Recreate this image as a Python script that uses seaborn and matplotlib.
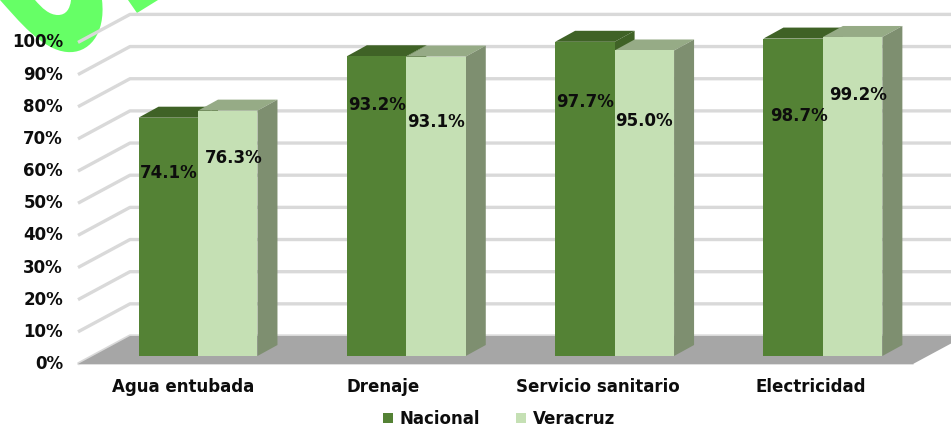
#!/usr/bin/env python

import pandas as pd
import matplotlib
matplotlib.use("Agg")
import matplotlib.pyplot as plt
import seaborn as sns
from matplotlib.patches import Polygon, PathPatch
from matplotlib.path import Path

# Chart values
categories = ["Agua entubada", "Drenaje", "Servicio sanitario", "Electricidad"]
nacional = [74.1, 93.2, 97.7, 98.7]
veracruz = [76.3, 93.1, 95.0, 99.2]
y_ticks = [0, 10, 20, 30, 40, 50, 60, 70, 80, 90, 100]

# Where the labels sit inside the bars (height, and nudge from the bar centre)
nacional_label_y = [56.9, 78.0, 79.0, 74.6]
veracruz_label_y = [61.6, 72.8, 73.0, 81.2]
nacional_label_dx = [0, 0, 0, 0.03]
veracruz_label_dx = [0.03, 0, 0, 0.025]
category_label_x = [-0.07, 0.89, 1.92, 2.94]

FONT = "DejaVu Sans"
FONT_SIZE = 12
INK = "#0D0D0D"
FRONT = {"Nacional": "#548235", "Veracruz": "#C5E0B4"}
TOP = {"Nacional": "#3F6226", "Veracruz": "#96AB86"}
SIDE = {"Nacional": "#3F6226", "Veracruz": "#7E8F70"}

W, H = 951, 428
PX_X = 208.3    # pixels per category
PX_Y = 3.216    # pixels per percent

df = pd.DataFrame({
    "categoria": categories * 2,
    "serie": ["Nacional"] * 4 + ["Veracruz"] * 4,
    "valor": nacional + veracruz,
})

sns.set_theme(style="white")
fig = plt.figure(figsize=(W / 100, H / 100), dpi=100)
ax = fig.add_axes([0, 0, 1, 1])

sns.barplot(data=df, x="categoria", y="valor", hue="serie", order=categories,
            palette=FRONT, saturation=1, width=0.571, gap=0, linewidth=0, ax=ax, zorder=5)

# The axes fill the figure, so the limits place the front plane of the bars
ax.set_xlim(-198 / PX_X, (W - 198) / PX_X)
ax.set_ylim(-(H - 356) / PX_Y, 356 / PX_Y)
ax.set_axis_off()

# Depth of the walls and of the bars, in data units
wall_dx, wall_dy = 52 / PX_X, 28 / PX_Y
bar_dx, bar_dy = 20 / PX_X, 11 / PX_Y
front_drop = 8 / PX_Y


def pixel_xy(points):
    return [(x / W, 1 - y / H) for x, y in points]


# Green watermark cut off by the top of the picture
blob = Path(
    pixel_xy([(0, 0), (18, 20), (42, 50), (67, 52), (88, 54), (106, 35), (102, 0),
              (71, 0), (70, 9), (66, 15), (58, 15), (49, 15), (42, 8), (35, 0), (0, 0)]),
    [Path.MOVETO, Path.CURVE4, Path.CURVE4, Path.CURVE4, Path.CURVE4, Path.CURVE4, Path.CURVE4,
     Path.LINETO, Path.CURVE4, Path.CURVE4, Path.CURVE4, Path.CURVE4, Path.CURVE4, Path.CURVE4,
     Path.CLOSEPOLY],
)
ax.add_patch(PathPatch(blob, transform=ax.transAxes, facecolor="#66FF66", edgecolor="none", zorder=0))
ax.add_patch(Polygon(pixel_xy([(128, 0), (137, 13), (158, 0)]), transform=ax.transAxes,
                     facecolor="#66FF66", edgecolor="none", zorder=0))

# Floor
x_start = (78 - 198) / PX_X
x_end = (913 - 198) / PX_X
ax.add_patch(Polygon([(x_start, -front_drop), (x_start + wall_dx, -front_drop + wall_dy),
                      (x_end + wall_dx, -front_drop + wall_dy), (x_end, -front_drop)],
                     facecolor="#A6A6A6", edgecolor="none", zorder=2))

# Gridlines: short diagonal on the side wall, then across the back wall
for v in y_ticks:
    ax.plot([x_start, x_start + wall_dx, ax.get_xlim()[1]],
            [v - front_drop, v - front_drop + wall_dy, v - front_drop + wall_dy],
            color="#D9D9D9", lw=2.4, solid_capstyle="butt", zorder=1)
    ax.text(x_start - 15 / PX_X, v - front_drop, f"{v}%", ha="right", va="center",
            fontsize=FONT_SIZE, fontweight="bold", family=FONT, color=INK, zorder=8)
ax.plot([x_start, x_end], [-front_drop, -front_drop], color="#D9D9D9", lw=1.2, zorder=1)

# 3D faces of the bars, built from the bars seaborn drew
for container, serie in zip(ax.containers, ["Nacional", "Veracruz"]):
    order = 3 if serie == "Nacional" else 4
    for bar in container:
        x0, x1 = bar.get_x(), bar.get_x() + bar.get_width()
        h = bar.get_height()
        bar.set_zorder(order + 0.5)
        ax.add_patch(Polygon([(x0, h), (x0 + bar_dx, h + bar_dy), (x1 + bar_dx, h + bar_dy), (x1, h)],
                             facecolor=TOP[serie], edgecolor="none", zorder=order))
        ax.add_patch(Polygon([(x1, 0), (x1 + bar_dx, bar_dy), (x1 + bar_dx, h + bar_dy), (x1, h)],
                             facecolor=SIDE[serie], edgecolor="none", zorder=order))

# Data labels
for container, values, label_y, label_dx in zip(ax.containers, [nacional, veracruz],
                                                [nacional_label_y, veracruz_label_y],
                                                [nacional_label_dx, veracruz_label_dx]):
    for bar, v, y, dx in zip(container, values, label_y, label_dx):
        ax.text(bar.get_x() + bar.get_width() / 2 + dx, y, f"{v:.1f}%", ha="center", va="center",
                fontsize=FONT_SIZE, fontweight="bold", family=FONT, color=INK, zorder=9)

# Category labels sit below the front edge of the floor
for x, name in zip(category_label_x, categories):
    ax.text(x, -29 / PX_Y - front_drop + 2, name, ha="center", va="center",
            fontsize=FONT_SIZE, fontweight="bold", family=FONT, color=INK, zorder=8)

sns.move_legend(ax, "center", bbox_to_anchor=(499 / W, 1 - 419 / H), ncol=2, frameon=False,
                title=None, handlelength=0.6, handleheight=0.6, handletextpad=0.4, columnspacing=2.2,
                borderpad=0, prop={"family": FONT, "weight": "bold", "size": FONT_SIZE}, labelcolor=INK)

plt.savefig("out.png", dpi=100)
plt.close()
